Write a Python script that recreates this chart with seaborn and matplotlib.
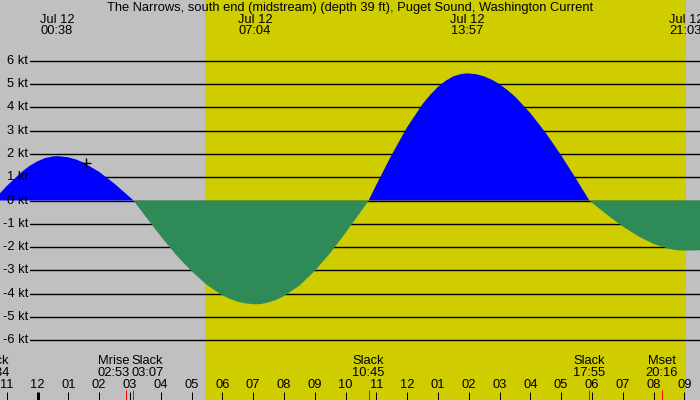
import numpy as np
import pandas as pd
import matplotlib
matplotlib.use("Agg")
import matplotlib.pyplot as plt
import seaborn as sns

# ========== DATOS ==========
# hora relativa a la medianoche del 12 de julio, corriente en nudos
curve_hours = [-1.5, -1.433, -1.0, -0.5, -0.25, 0.0, 0.25, 0.5, 0.633, 0.75, 1.0, 1.25, 1.5,
               2.0, 2.5, 3.0, 3.117,
               3.5, 4.0, 4.5, 5.0, 5.5, 6.0, 6.25, 6.5, 6.75, 7.067, 7.25, 7.5, 7.75, 8.0,
               8.5, 9.0, 9.5, 10.0, 10.5, 10.75, 11.0, 11.5, 12.0, 12.5, 12.75, 13.0, 13.25,
               13.5, 13.75, 13.95, 14.25, 14.5, 14.75, 15.0, 15.25, 15.5,
               16.0, 16.5, 17.0, 17.5, 17.917, 18.0, 18.5, 19.0, 19.5, 20.0, 20.5, 20.75,
               21.05, 21.3, 21.6]
curve_kt = [-0.05, 0.0, 0.62, 1.24, 1.49, 1.68, 1.82, 1.89, 1.90, 1.89, 1.85, 1.76, 1.62,
            1.23, 0.72, 0.14, 0.0,
            -0.67, -1.53, -2.33, -3.03, -3.62, -4.06, -4.22, -4.34, -4.41, -4.45, -4.44, -4.37, -4.26, -4.10,
            -3.65, -3.02, -2.26, -1.39, -0.47, 0.0, 0.67, 1.96, 3.14, 4.13, 4.53, 4.87, 5.13,
            5.32, 5.42, 5.45, 5.41, 5.32, 5.18, 4.99, 4.74, 4.46,
            3.75, 2.90, 1.94, 0.90, 0.0, -0.09, -0.62, -1.11, -1.53, -1.86, -2.07, -2.13,
            -2.15, -2.14, -2.13]

peak_date = "Jul 12"
peak_times = ["00:38", "07:04", "13:57", "21:03"]

event_names = ["Slack", "Mrise", "Slack", "Slack", "Slack", "Mset"]
event_times = ["22:34", "02:53", "03:07", "10:45", "17:55", "20:16"]
event_day = [-1, 0, 0, 0, 0, 0]

sunrise = "05:26"
sunset = "21:03"

now_hour = 1.59
now_kt = 1.59

kt_levels = list(range(-6, 7))
hour_ticks = list(range(-1, 22))

title = "The Narrows, south end (midstream) (depth 39 ft), Puget Sound, Washington Current"


def to_h(s, day=0):
    hh, mm = s.split(":")
    return int(hh) + int(mm) / 60 + 24 * day


# ========== ESTILO ==========
sns.set_theme(style="white")
plt.rcParams["font.family"] = ["Liberation Sans", "DejaVu Sans"]
FS = 9.3

gray = "#c0c0c0"
day_col = "#cfcc00"
flood = "#0000ff"
ebb = "#2e8b57"

PX_H = 30.8      # pixeles por hora
X0 = 37.5        # pixel de la medianoche
PX_KT = 23.33    # pixeles por nudo
Y0 = 200.5       # pixel de 0 kt

fig = plt.figure(figsize=(7, 4), dpi=100)
ax = fig.add_axes([0, 0, 1, 1])
ax.set_xlim(-X0 / PX_H, (700 - X0) / PX_H)
ax.set_ylim(-(400 - Y0) / PX_KT, Y0 / PX_KT)
ax.set_facecolor(gray)
ax.axis("off")
fig.patch.set_facecolor(gray)

ax.axvspan(to_h(sunrise), to_h(sunset), color=day_col, lw=0, zorder=0)

xt = ax.get_xaxis_transform()
yt = ax.get_yaxis_transform()

# lineas horizontales
for k in kt_levels:
    ax.plot([30 / 700, 1], [k, k], transform=yt, color="black", lw=1.0, zorder=1)
    ax.text(28 / 700, k, f"{k} kt", transform=yt, ha="right", va="center",
            fontsize=FS, color="black", zorder=5)

df = pd.DataFrame({"hour": curve_hours, "kt": curve_kt})
h = df["hour"].values
v = df["kt"].values
ax.fill_between(h, 0, v, where=v >= 0, interpolate=True, color=flood, lw=0, zorder=2)
ax.fill_between(h, 0, v, where=v <= 0, interpolate=True, color=ebb, lw=0, zorder=2)

# marcador de hora actual
sns.scatterplot(x=[now_hour], y=[now_kt], marker="+", s=45, color="black",
                linewidth=1.0, ax=ax, zorder=4, legend=False)

# titulo y etiquetas de maximos
ax.text(0.5, 1 - 7.5 / 400, title, transform=ax.transAxes, ha="center", va="center",
        fontsize=FS, color="black")
for t in peak_times:
    ax.text(to_h(t), 1 - 20 / 400, peak_date, transform=xt, ha="center", va="center",
            fontsize=FS, color="black")
    ax.text(to_h(t), 1 - 31.5 / 400, t, transform=xt, ha="center", va="center",
            fontsize=FS, color="black")

# horas en el eje inferior
for hr in hour_ticks:
    lab = f"{((hr - 1) % 12) + 1:02d}"
    ax.text(hr, 1 - 385.5 / 400, lab, transform=xt, ha="center", va="center",
            fontsize=FS, color="black")
    lw = 3 if hr % 24 == 0 else 1
    ax.plot([hr, hr], [0, 8 / 400], transform=xt, color="black", lw=lw * 0.72,
            solid_capstyle="butt", zorder=5)

# eventos (slack, luna)
label_shift_px = [0, -13, 14, 0, 0, 0]
for name, t, d, sh in zip(event_names, event_times, event_day, label_shift_px):
    eh = to_h(t, d)
    ax.plot([eh, eh], [0, 10 / 400], transform=xt, color="red", lw=0.72,
            solid_capstyle="butt", zorder=5)
    lx = eh + sh / PX_H
    ax.text(lx, 1 - 361 / 400, name, transform=xt, ha="center", va="center",
            fontsize=FS, color="black")
    ax.text(lx, 1 - 373.5 / 400, t, transform=xt, ha="center", va="center",
            fontsize=FS, color="black")

fig.savefig("out.png", dpi=100, facecolor=gray)
